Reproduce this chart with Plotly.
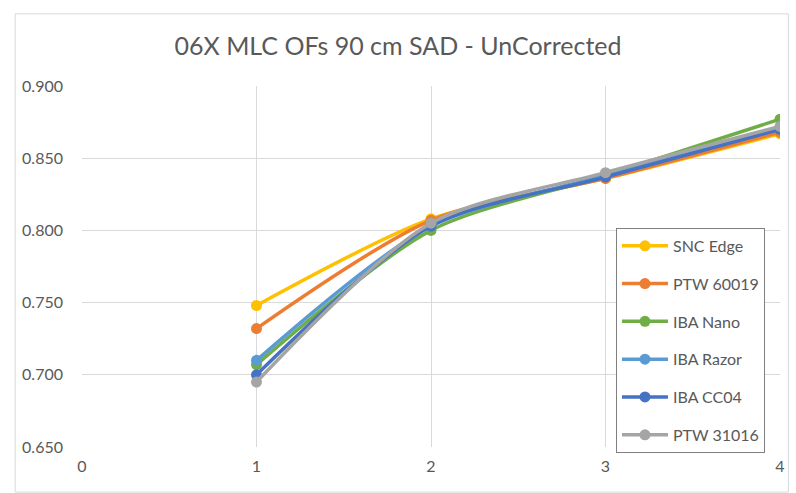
import plotly.graph_objects as go

x_vals = [1, 2, 3, 4]
series_names = ["SNC Edge", "PTW 60019", "IBA Nano", "IBA Razor", "IBA CC04", "PTW 31016"]
snc_edge = [0.748, 0.808, 0.836, 0.867]
ptw_60019 = [0.732, 0.807, 0.836, 0.868]
iba_nano = [0.707, 0.800, 0.838, 0.877]
iba_razor = [0.710, 0.803, 0.838, 0.871]
iba_cc04 = [0.700, 0.803, 0.837, 0.870]
ptw_31016 = [0.695, 0.805, 0.840, 0.872]
colors = ["#FFC000", "#ED7D31", "#70AD47", "#5B9BD5", "#4472C4", "#A5A5A5"]

all_series = [snc_edge, ptw_60019, iba_nano, iba_razor, iba_cc04, ptw_31016]

fig = go.Figure()
for i, (name, vals, c) in enumerate(zip(series_names, all_series, colors)):
    fig.add_trace(go.Scatter(
        x=x_vals, y=vals, name=name, mode="lines+markers",
        line=dict(color=c, width=3.5, shape="spline", smoothing=0.8),
        marker=dict(color=c, size=11),
        legendgroup=f"g{i}",
    ))

font_family = "Lato, 'Open Sans', sans-serif"
fig.update_layout(
    width=796, height=493,
    margin=dict(l=82, r=11, t=86, b=46),
    paper_bgcolor="white", plot_bgcolor="white",
    title=dict(text="06X MLC OFs 90 cm SAD - UnCorrected", x=0.5, xanchor="center",
               y=1 - 46 / 493, yanchor="middle",
               font=dict(family=font_family, size=25, color="#595959")),
    font=dict(family=font_family, size=16, color="#595959"),
    xaxis=dict(range=[0, 4], tickvals=[0, 1, 2, 3, 4], showgrid=True, gridcolor="#D9D9D9",
               gridwidth=1, zeroline=False, showline=False, ticks="", ticklabelstandoff=8),
    yaxis=dict(range=[0.65, 0.9], dtick=0.05, tickformat=".3f", showgrid=True,
               gridcolor="#D9D9D9", gridwidth=1, zeroline=False, showline=False, ticks="",
               ticklabelstandoff=18),
    legend=dict(x=0.765, y=0.607, xanchor="left", yanchor="top",
                bordercolor="#808080", borderwidth=1, bgcolor="white",
                font=dict(size=16, color="#595959"), traceorder="grouped",
                tracegroupgap=14, itemwidth=46),
    showlegend=True,
)
fig.add_shape(type="rect", xref="paper", yref="paper", x0=-0.0957, x1=1.012, y0=-0.125, y1=1.2,
              line=dict(color="#D9D9D9", width=1), fillcolor="rgba(0,0,0,0)", layer="below")
fig.write_html("out.html")
